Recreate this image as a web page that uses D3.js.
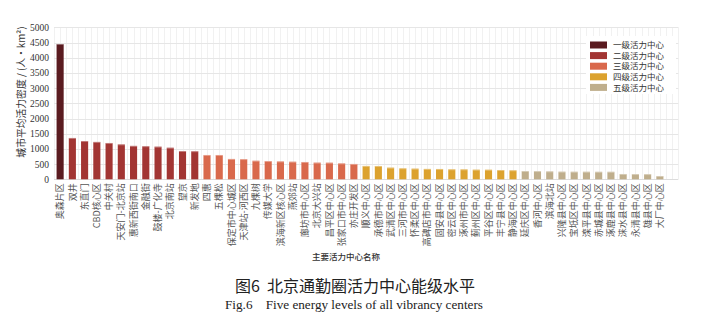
<!DOCTYPE html>
<html><head><meta charset="utf-8">
<script src="https://cdn.jsdelivr.net/npm/d3@7/dist/d3.min.js"></script>
<style>
body{margin:0;background:#fff;}
svg{display:block;}
</style></head>
<body><svg id="c" width="714" height="326"></svg>
<script>
const categories = ["奥森片区","双井","东直门","CBD核心区","中关村","天安门-北京站","惠新西街南口","金融街","鼓楼-广化寺","北京南站","望京","新发地",
"四惠","五棵松","保定市中心城区","天津站-河西区","九棵树","传媒大学","滨海新区核心区","燕郊站","廊坊市中心区","北京大兴站","昌平区中心区","张家口市中心区","亦庄开发区",
"顺义中心区","承德市中心区","武清区中心区","三河市中心区","怀柔区中心区","高碑店市中心区","固安县中心区","密云区中心区","涿州市中心区","蓟州区中心区","平谷区中心区","丰宁县中心区","静海区中心区",
"延庆区中心区","香河中心区","滨海北站","兴隆县中心区","宝坻区中心区","滦平县中心区","赤城县中心区","涿鹿县中心区","涞水县中心区","永清县中心区","雄县中心区","大厂中心区"];
const values = [4450,1360,1260,1230,1195,1150,1100,1090,1075,1040,930,925,
800,800,670,665,612,600,590,580,570,550,548,525,505,
440,438,385,362,352,342,340,330,328,318,316,306,297,
272,270,262,252,250,250,248,248,175,172,170,108];
const levels = [1,2,2,2,2,2,2,2,2,2,2,2,
3,3,3,3,3,3,3,3,3,3,3,3,3,
4,4,4,4,4,4,4,4,4,4,4,4,4,
5,5,5,5,5,5,5,5,5,5,5,5];
const legendLabels = ["一级活力中心","二级活力中心","三级活力中心","四级活力中心","五级活力中心"];
const levelColors = ["#5a1b20","#a23533","#d9694c","#dca22e","#bfae8c"];
const yTicks = [0,500,1000,1500,2000,2500,3000,3500,4000,4500,5000];

(function(){
const svg = d3.select("#c");
const cjk = "'Noto Sans CJK SC','Noto Sans',sans-serif";
const serif = "'Liberation Serif','DejaVu Serif','Noto Sans CJK SC',serif";
const pLeft = 54, pRight = 666, pTop = 27.3, pBottom = 179.3;

const x = d3.scaleBand().domain(categories).range([pLeft, pRight]).paddingInner(0.42).paddingOuter(0.21);
const step = x.step();
const plotRight = pRight + step;
const y = d3.scaleLinear().domain([0, 5000]).range([pBottom, pTop]);

const g = svg.append("g");
const vlines = d3.range(pLeft, plotRight + 0.1, step / 2);
g.selectAll("line.v").data(vlines).enter().append("line")
  .attr("x1", d => Math.round(d) + 0.5).attr("x2", d => Math.round(d) + 0.5)
  .attr("y1", pTop).attr("y2", pBottom)
  .attr("stroke", "#f1f1f1").attr("stroke-width", 1);
g.selectAll("line.h").data(yTicks).enter().append("line")
  .attr("x1", pLeft).attr("x2", plotRight)
  .attr("y1", d => Math.round(y(d)) + 0.5).attr("y2", d => Math.round(y(d)) + 0.5)
  .attr("stroke", d => d === 0 ? "#dcdcdc" : "#e6e6e6").attr("stroke-width", 1.2);

const yAxis = d3.axisLeft(y).tickValues(yTicks).tickFormat(d3.format("d")).tickSize(0).tickPadding(5);
const ya = svg.append("g").attr("transform", `translate(${pLeft},0)`).call(yAxis);
ya.select(".domain").remove();
ya.selectAll("text").attr("font-family", serif).attr("font-size", 9.5).attr("fill", "#333");

svg.append("g").selectAll("rect").data(categories).enter().append("rect")
  .attr("x", d => x(d)).attr("width", x.bandwidth())
  .attr("y", (d, i) => y(values[i])).attr("height", (d, i) => y(0) - y(values[i]))
  .attr("fill", (d, i) => levelColors[levels[i] - 1]);
svg.append("g").selectAll("line").data(categories).enter().append("line")
  .attr("x1", d => x(d)).attr("x2", d => x(d) + x.bandwidth())
  .attr("y1", (d, i) => y(values[i]) + 0.5).attr("y2", (d, i) => y(values[i]) + 0.5)
  .attr("stroke", "#fff").attr("stroke-opacity", 0.35).attr("stroke-width", 1);

const xAxis = d3.axisBottom(x).tickSize(0).tickPadding(0);
const xa = svg.append("g").attr("transform", `translate(0,${pBottom})`).call(xAxis);
xa.select(".domain").remove();
xa.selectAll("text")
  .attr("font-family", cjk).attr("font-size", 9).attr("fill", "#555")
  .attr("text-anchor", "end").attr("dy", "0.35em")
  .attr("transform", "translate(0,4) rotate(-90)")
  .attr("x", 0).attr("y", 0);

svg.append("text").attr("transform", "translate(25,92) rotate(-90)")
  .attr("text-anchor", "middle").attr("font-family", cjk).attr("font-size", 9.8).attr("fill", "#333")
  .text("城市平均活力密度 / (人・km²)");

svg.append("text").attr("x", 346).attr("y", 260).attr("text-anchor", "middle")
  .attr("font-family", cjk).attr("font-size", 8.5).attr("font-weight", 500).attr("fill", "#333")
  .text("主要活力中心名称");

const lg = svg.append("g");
lg.append("rect").attr("x", 586).attr("y", 36).attr("width", 90).attr("height", 58).attr("fill", "#fff");
const li = lg.selectAll("g").data(legendLabels).enter().append("g")
  .attr("transform", (d, i) => `translate(590,${41.5 + i * 10.6})`);
li.append("rect").attr("width", 17).attr("height", 7).attr("fill", (d, i) => levelColors[i]);
li.append("text").attr("x", 23).attr("y", 3.7).attr("dy", "0.35em")
  .attr("font-family", cjk).attr("font-size", 8.5).attr("fill", "#333").text(d => d);

svg.append("text").attr("x", 355).attr("y", 292).attr("text-anchor", "middle")
  .attr("font-family", cjk).attr("font-size", 16).attr("font-weight", 400).attr("fill", "#222")
  .attr("xml:space", "preserve")
  .text("图6  北京通勤圈活力中心能级水平");
svg.append("text").attr("x", 354).attr("y", 309).attr("text-anchor", "middle")
  .attr("font-family", serif).attr("font-size", 13.2).attr("fill", "#222")
  .attr("xml:space", "preserve")
  .text("Fig.6    Five energy levels of all vibrancy centers");
})();
</script></body></html>
